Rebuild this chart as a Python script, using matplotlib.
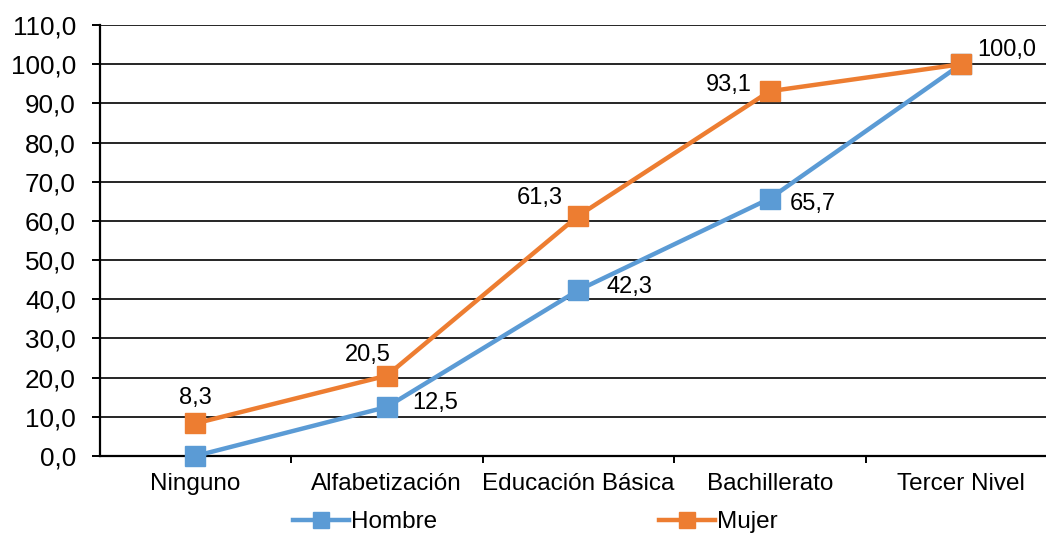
import matplotlib
matplotlib.use("Agg")
import matplotlib.pyplot as plt
from matplotlib.ticker import MultipleLocator, FuncFormatter

categories = ["Ninguno", "Alfabetización", "Educación Básica", "Bachillerato", "Tercer Nivel"]
hombre = [0.0, 12.5, 42.3, 65.7, 100.0]
mujer = [8.3, 20.5, 61.3, 93.1, 100.0]

# label offsets in pixels (dx, dy), None = no label
hombre_offsets = [None, (26, 4), (28, 3), (20, -5), (16, 14)]
mujer_offsets = [(0, 25), (4, 21), (-15, 18), (-18, 6), None]

BLUE = "#5B9BD5"
ORANGE = "#ED7D31"
FS = 17.5
FS_Y = 18.8
FS_LABEL = 17

plt.rcParams["font.family"] = ["Liberation Sans", "DejaVu Sans"]

W, H = 1046, 533
fig = plt.figure(figsize=(W / 100, H / 100), dpi=100)
left_px, right_px, top_px, bot_px = 99.5, 1057, 25, 456
ax = fig.add_axes([left_px / W, (H - bot_px) / H, (right_px - left_px) / W, (bot_px - top_px) / H])

x = list(range(len(categories)))
lh, = ax.plot(x, hombre, color=BLUE, lw=3.2, marker="s", ms=14, label="Hombre", zorder=4, clip_on=False)
lm, = ax.plot(x, mujer, color=ORANGE, lw=3.2, marker="s", ms=14, label="Mujer", zorder=5, clip_on=False)

def px2pt(v):
    return v * 72 / 100

def fmt(v):
    return f"{v:.1f}".replace(".", ",")

for xi, v, off in zip(x, hombre, hombre_offsets):
    if off is None:
        continue
    ax.annotate(fmt(v), (xi, v), xytext=(px2pt(off[0]), px2pt(off[1])), textcoords="offset points",
                ha="left", va="center", fontsize=FS_LABEL, color="black", zorder=6)
for xi, v, off in zip(x, mujer, mujer_offsets):
    if off is None:
        continue
    ha = "center" if off[0] == 0 else "right"
    ax.annotate(fmt(v), (xi, v), xytext=(px2pt(off[0]), px2pt(off[1])), textcoords="offset points",
                ha=ha, va="center", fontsize=FS_LABEL, color="black", zorder=6)

ax.set_xlim(-0.5, len(categories) - 0.5)
ax.set_ylim(0, 110)
ax.yaxis.set_major_locator(MultipleLocator(10))
ax.yaxis.set_major_formatter(FuncFormatter(lambda v, p: fmt(v)))
ax.set_xticks(x)
ax.set_xticklabels(categories)
ax.set_xticks([i + 0.5 for i in x[:-1]], minor=True)

ax.grid(axis="y", color="black", lw=1.2, zorder=1)
ax.set_axisbelow(True)
for s in ["top", "right"]:
    ax.spines[s].set_visible(False)
ax.spines["left"].set_linewidth(1.6)
ax.spines["bottom"].set_linewidth(1.6)

ax.tick_params(axis="y", length=6, width=1.4, pad=11, labelsize=FS_Y, direction="out")
ax.tick_params(axis="x", which="major", length=0, pad=12, labelsize=FS)
ax.tick_params(axis="x", which="minor", length=5, width=1.4, direction="out")

fig.legend(handles=[lh, lm], loc="center left", bbox_to_anchor=(293 / W, (H - 522) / H),
           ncol=2, frameon=False, fontsize=FS, handlelength=2.3, handletextpad=0.1,
           columnspacing=9.1, borderpad=0, borderaxespad=0, markerscale=0.8)

fig.savefig("out.png", dpi=100)
